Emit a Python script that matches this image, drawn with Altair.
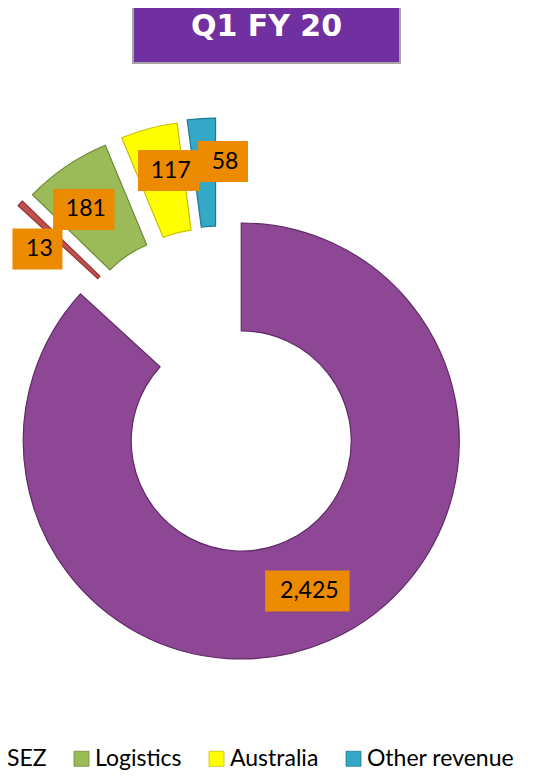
import math
import altair as alt
import pandas as pd

# ---- data ----
categories = ["Ports", "SEZ", "Logistics", "Australia", "Other revenue"]
values = [2425, 13, 181, 117, 58]
labels = ["2,425", "13", "181", "117", "58"]
legend_items = ["SEZ", "Logistics", "Australia", "Other revenue"]
title_text = ["Q1 FY 20"]

# ---- styles ----
fills = ["#8E4794", "#C0504D", "#9BBB59", "#FFFF00", "#34A8C6"]
strokes = ["#5F2B66", "#943634", "#6E8A37", "#C9C100", "#1E7A93"]
INNER, OUTER = 110, 218
EXPLODE = 108
RMID = (INNER + OUTER) / 2
RLAB_EXPLODED = 280
W, H = 523, 700
CX, CY = 236, 372  # pixel position of the ring centre inside the plot

total = sum(values)
group_mid = math.pi * (1 + values[0] / total)

df = pd.DataFrame({"cat": categories, "value": values, "label": labels,
                   "order": list(range(len(categories)))})

xs = alt.Scale(domain=[-CX, W - CX], nice=False, zero=False)
ys = alt.Scale(domain=[CY - H, CY], nice=False, zero=False)

base = (
    alt.Chart(df)
    .transform_joinaggregate(total="sum(value)")
    .transform_window(cum="sum(value)", sort=[alt.SortField("order")], frame=[None, 0])
    .transform_calculate(
        a0="2*PI*(datum.cum-datum.value)/datum.total",
        a1="2*PI*datum.cum/datum.total",
    )
    .transform_calculate(
        mid="(datum.a0+datum.a1)/2",
        ex=f"datum.order == 0 ? 0 : {EXPLODE}",
        lr=f"datum.order == 0 ? {RMID} : {RLAB_EXPLODED}",
    )
    .transform_calculate(
        dir=f"datum.order == 0 ? datum.mid : (datum.mid + {group_mid})/2",
    )
    .transform_calculate(
        cx="datum.ex*sin(datum.dir)",
        cy="datum.ex*cos(datum.dir)",
        lx="datum.lr*sin(datum.mid)",
        ly="datum.lr*cos(datum.mid)",
        bw="11.5*length(datum.label)+27",
    )
    .transform_calculate(
        bx0="datum.lx - datum.bw/2",
        bx1="datum.lx + datum.bw/2",
        by0="datum.ly - 20.5",
        by1="datum.ly + 20.5",
    )
)

arcs = base.mark_arc(innerRadius=INNER, outerRadius=OUTER, strokeWidth=1.2).encode(
    x=alt.X("cx:Q", scale=xs, axis=None),
    y=alt.Y("cy:Q", scale=ys, axis=None),
    theta=alt.Theta("a0:Q", scale=None),
    theta2="a1:Q",
    color=alt.Color(
        "cat:N",
        scale=alt.Scale(domain=categories, range=fills),
        legend=alt.Legend(
            values=legend_items,
            title=None,
            orient="none",
            direction="horizontal",
            legendX=-23,
            legendY=742,
            symbolType="square",
            symbolSize=225,
            symbolStrokeWidth=0.8,
            symbolStrokeColor="#666666",
            labelFont="Lato",
            labelFontSize=23,
            labelColor="#000000",
            labelOffset=2,
            columnPadding=23,
        ),
    ),
    stroke=alt.Stroke("cat:N", scale=alt.Scale(domain=categories, range=strokes), legend=None),
)

boxes = base.mark_rect(color="#EC8A00").encode(
    x=alt.X("bx0:Q", scale=xs, axis=None),
    x2="bx1:Q",
    y=alt.Y("by0:Q", scale=ys, axis=None),
    y2="by1:Q",
)

texts = base.mark_text(font="Lato", fontSize=23, color="#000000", dx=2).encode(
    x=alt.X("lx:Q", scale=xs, axis=None),
    y=alt.Y("ly:Q", scale=ys, axis=None),
    text="label:N",
)

donut = alt.layer(arcs, boxes, texts).properties(
    width=W, height=H, view=alt.ViewBackground(stroke="transparent")
)

title = alt.Chart(pd.DataFrame({"t": title_text})).mark_text(
    font="DejaVu Sans", fontSize=30, fontWeight="bold", color="#FFFFFF", dy=-7
).encode(text="t:N").properties(
    width=267, height=58,
    view=alt.ViewBackground(fill="#7030A0", stroke="#A6A6A6", strokeWidth=2),
)

chart = alt.vconcat(title, donut, spacing=4, center=True).properties(
    padding={"left": -26, "top": -4, "right": 0, "bottom": 0}
)

chart.save("out.html", embed_options={"renderer": "svg", "actions": False})
